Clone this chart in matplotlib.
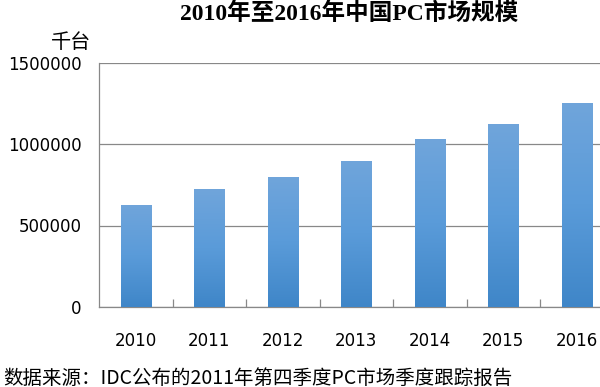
import numpy as np
import matplotlib
matplotlib.use("Agg")
import matplotlib.pyplot as plt
from matplotlib.colors import LinearSegmentedColormap
from matplotlib.ticker import FixedLocator

years = ["2010", "2011", "2012", "2013", "2014", "2015", "2016"]
values = [626000, 722000, 798000, 898000, 1029000, 1125000, 1254000]
yticks = [0, 500000, 1000000, 1500000]
title = "2010年至2016年中国PC市场规模"
unit = "千台"
source = "数据来源：IDC公布的2011年第四季度PC市场季度跟踪报告"

plt.rcParams['font.family'] = ['DejaVu Sans', 'Noto Sans CJK SC']

W, H = 600, 387
fig = plt.figure(figsize=(W / 100, H / 100), dpi=100)
left, right, top, bottom = 99, 613.5, 62.5, 307
ax = fig.add_axes([left / W, 1 - bottom / H, (right - left) / W, (bottom - top) / H])

x = np.arange(len(years))
bars = ax.bar(x, values, width=0.41, color="#5b9bd5", zorder=3)

cmap = LinearSegmentedColormap.from_list("g", ["#3f86c8", "#5a9bd9", "#70a5db"])
grad = np.linspace(0, 1, 256).reshape(-1, 1)
for b in bars:
    bx, by = b.get_x(), b.get_y()
    bw, bh = b.get_width(), b.get_height()
    im = ax.imshow(grad, cmap=cmap, aspect="auto", origin="lower",
                   extent=[bx, bx + bw, by, by + bh], zorder=4)
    im.set_clip_path(b)

ax.set_xlim(-0.5, len(years) - 0.5)
ax.set_ylim(0, 1500000)
ax.set_yticks(yticks)
ax.set_yticklabels([str(v) for v in yticks], fontsize=12)
ax.set_xticks(x)
ax.set_xticklabels(years, fontsize=12)
ax.tick_params(axis="x", length=0, pad=18)
ax.tick_params(axis="y", length=0, pad=12.5)
ax.xaxis.set_minor_locator(FixedLocator(np.arange(0.5, len(years) - 0.5, 1)))
ax.tick_params(axis="x", which="minor", direction="in", length=6, color="#888888", width=0.9)
ax.grid(axis="y", color="#888888", linewidth=0.9, zorder=0)
for s in ["top", "right"]:
    ax.spines[s].set_visible(False)
for s in ["left", "bottom"]:
    ax.spines[s].set_color("#888888")
    ax.spines[s].set_linewidth(0.9)

fig.text(349 / W, 1 - 14 / H, title, ha="center", va="center", fontsize=17,
         fontweight="bold", family=["Liberation Serif", "Noto Sans CJK SC"])
fig.text(91 / W, 1 - 42 / H, unit, ha="right", va="center", fontsize=14.5,
         family=["Noto Sans CJK SC"])
fig.text(3 / W, 1 - 378 / H, source, ha="left", va="center", fontsize=14,
         family=["Noto Sans CJK SC", "DejaVu Sans"])

fig.savefig("out.png", dpi=100)
